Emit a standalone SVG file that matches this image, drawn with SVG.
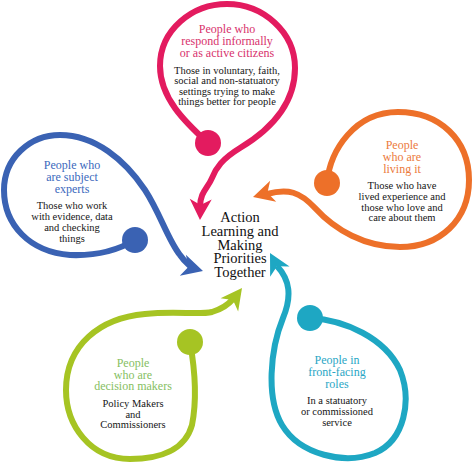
<svg xmlns="http://www.w3.org/2000/svg" width="474" height="463" viewBox="0 0 474 463">
<style>
.ln{fill:none;stroke-width:6;stroke-linecap:butt;stroke-linejoin:round}
.t{font-family:"Liberation Serif","Times New Roman",serif;font-size:12px;text-anchor:middle}
.b{font-family:"Liberation Serif","Times New Roman",serif;font-size:10.5px;text-anchor:middle;fill:#151515}
.c{font-family:"Liberation Serif","Times New Roman",serif;font-size:14.5px;text-anchor:middle;fill:#111}
</style>
<defs>
<path id="ah" d="M0,0 L-21,-11 L-15,0 L-21,11 Z"/>
</defs>
<rect width="474" height="463" fill="#fff"/>
<g id="connectors">
<path class="ln" stroke="#e31b5f" d="M208,143 C185,122 160,98 160,66 C160,30 192,4 227,4 C263,4 295,32 295,68 C295,105 270,130 240,148 C222,159 216,168 212,178 C208,188 200,192 200,207"/>
<use href="#ah" fill="#e31b5f" transform="translate(200,220) rotate(92)"/>
<path class="ln" stroke="#3a62b3" d="M135,240 C115,252 95,256 70,255 C30,252 4,225 4,190 C4,158 30,135 60,135 C95,135 125,160 145,190 C160,213 168,240 180,255 C184,261 188,264 191,267"/>
<use href="#ah" fill="#3a62b3" transform="translate(203,271) rotate(16)"/>
<path class="ln" stroke="#ed7029" d="M327,183 C330,150 355,112 398,112 C440,112 469,140 469,180 C469,220 440,247 400,247 C365,247 335,230 315,208 C300,192 288,188 267,194"/>
<use href="#ah" fill="#ed7029" transform="translate(253,197) rotate(164)"/>
<path class="ln" stroke="#a6c423" d="M190,342 C195,370 197,400 192,425 C185,450 160,459 130,459 C90,459 66,425 66,390 C66,345 100,318 145,314 C175,311 200,315 212,312 C222,309 228,305 233,299"/>
<use href="#ah" fill="#a6c423" transform="translate(242,288) rotate(-53)"/>
<path class="ln" stroke="#1ea7c3" d="M310,318 C345,320 385,338 400,370 C412,400 405,440 375,453 C345,465 300,455 282,425 C266,398 270,350 283,318 C292,296 290,280 277,266"/>
<use href="#ah" fill="#1ea7c3" transform="translate(270,253) rotate(-118)"/>
</g>
<g id="node-pink">
<circle cx="208" cy="143" r="13" fill="#e31b5f"/>
<text class="t" fill="#d8326c"><tspan x="227" y="33">People who</tspan><tspan x="227" y="45">respond informally</tspan><tspan x="227" y="56.5">or as active citizens</tspan></text>
<text class="b"><tspan x="227" y="73.5">Those in voluntary, faith,</tspan><tspan x="227" y="84">social and non-statuatory</tspan><tspan x="227" y="94.5">settings trying to make</tspan><tspan x="227" y="105">things better for people</tspan></text>
</g>
<g id="node-blue">
<circle cx="135" cy="240" r="13" fill="#3a62b3"/>
<text class="t" fill="#3b69bd"><tspan x="72" y="169">People who</tspan><tspan x="72" y="181">are subject</tspan><tspan x="72" y="192.5">experts</tspan></text>
<text class="b"><tspan x="72" y="209">Those who work</tspan><tspan x="72" y="220">with evidence, data</tspan><tspan x="72" y="231">and checking</tspan><tspan x="72" y="241.5">things</tspan></text>
</g>
<g id="node-orange">
<circle cx="327" cy="183" r="13" fill="#ed7029"/>
<text class="t" fill="#ec7a3c"><tspan x="402" y="149">People</tspan><tspan x="402" y="161">who are</tspan><tspan x="402" y="172.5">living it</tspan></text>
<text class="b"><tspan x="402" y="189">Those who have</tspan><tspan x="402" y="200">lived experience and</tspan><tspan x="402" y="210.5">those who love and</tspan><tspan x="402" y="221">care about them</tspan></text>
</g>
<g id="node-green">
<circle cx="190" cy="342" r="13" fill="#a6c423"/>
<text class="t" fill="#86c062"><tspan x="133" y="367">People</tspan><tspan x="133" y="378.5">who are</tspan><tspan x="133" y="390">decision makers</tspan></text>
<text class="b"><tspan x="133" y="407">Policy Makers</tspan><tspan x="133" y="417.5">and</tspan><tspan x="133" y="428">Commissioners</tspan></text>
</g>
<g id="node-teal">
<circle cx="310" cy="318" r="13" fill="#1ea7c3"/>
<text class="t" fill="#2aa6c5"><tspan x="337" y="364">People in</tspan><tspan x="337" y="376">front-facing</tspan><tspan x="337" y="387.5">roles</tspan></text>
<text class="b"><tspan x="337" y="404">In a statuatory</tspan><tspan x="337" y="415">or commissioned</tspan><tspan x="337" y="426">service</tspan></text>
</g>
<g id="node-center">
<text class="c"><tspan x="240" y="222">Action</tspan><tspan x="240" y="236">Learning and</tspan><tspan x="240" y="249.5">Making</tspan><tspan x="240" y="263">Priorities</tspan><tspan x="240" y="276.5">Together</tspan></text>
</g>
</svg>
